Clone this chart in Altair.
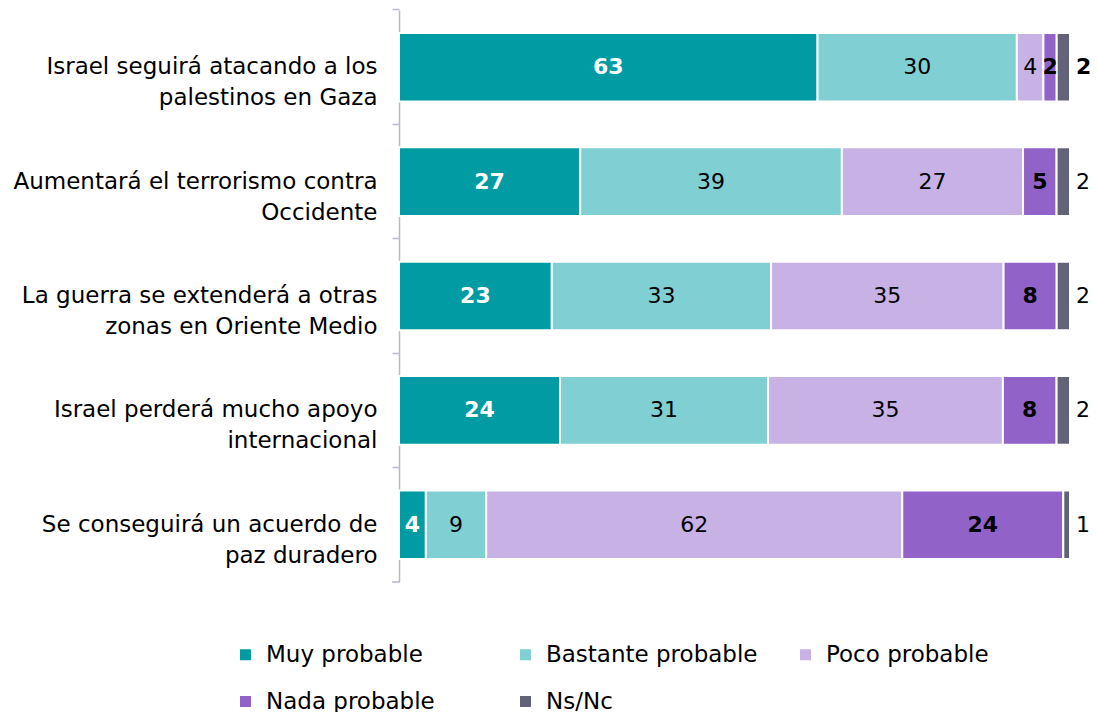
import altair as alt
import pandas as pd

preguntas = [
    "Israel seguirá atacando a los\npalestinos en Gaza",
    "Aumentará el terrorismo contra\nOccidente",
    "La guerra se extenderá a otras\nzonas en Oriente Medio",
    "Israel perderá mucho apoyo\ninternacional",
    "Se conseguirá un acuerdo de\npaz duradero",
]
categorias = ["Muy probable", "Bastante probable", "Poco probable", "Nada probable", "Ns/Nc"]
colores = ["#009BA3", "#80CFD2", "#C8B2E5", "#9163C9", "#626378"]

muy_probable = [63, 27, 23, 24, 4]
bastante_probable = [30, 39, 33, 31, 9]
poco_probable = [4, 27, 35, 35, 62]
nada_probable = [2, 5, 8, 8, 24]
ns_nc = [2, 2, 2, 2, 1]
nsnc_negrita = [True, False, False, False, False]

series = [muy_probable, bastante_probable, poco_probable, nada_probable, ns_nc]
rows = []
for ci, (cat, vals) in enumerate(zip(categorias, series)):
    for pi, (p, v) in enumerate(zip(preguntas, vals)):
        rows.append({
            "pregunta": p,
            "categoria": cat,
            "orden": ci,
            "valor": v,
            "negrita": bool(nsnc_negrita[pi]) if cat == "Ns/Nc" else False,
        })
df = pd.DataFrame(rows)

FONT = "DejaVu Sans"
AXIS_COL = "#B9B9CA"

base = alt.Chart(df).transform_stack(
    stack="valor",
    groupby=["pregunta"],
    as_=["v0", "v1"],
    sort=[alt.SortField("orden", order="ascending")],
    offset="normalize",
).transform_calculate(mid="(datum.v0 + datum.v1) / 2")

yenc = alt.Y(
    "pregunta:N",
    sort=preguntas,
    scale=alt.Scale(domain=preguntas, paddingInner=0.4, paddingOuter=0.2),
    axis=alt.Axis(
        title=None,
        labelExpr="split(datum.label, '\\n')",
        labelFontSize=23,
        labelLineHeight=31,
        labelColor="black",
        labelFont=FONT,
        labelAlign="right",
        labelPadding=15,
        labelLimit=0,
        tickSize=7,
        tickColor=AXIS_COL,
        tickWidth=1.5,
        domainColor=AXIS_COL,
        domainWidth=1.5,
        bandPosition=-1 / 3,
        grid=False,
    ),
)
xscale = alt.Scale(domain=[0, 1], nice=False, zero=True)

bars = base.mark_bar(stroke="white", strokeWidth=2).encode(
    y=yenc,
    x=alt.X("v0:Q", scale=xscale, axis=None),
    x2="v1:Q",
    color=alt.Color(
        "categoria:N",
        scale=alt.Scale(domain=categorias, range=colores),
        legend=alt.Legend(
            title=None,
            orient="none",
            direction="horizontal",
            legendX=-165,
            legendY=633,
            columns=3,
            gridAlign="all",
            symbolType="square",
            symbolSize=121,
            symbolStrokeWidth=0,
            labelFontSize=23,
            labelFont=FONT,
            labelColor="black",
            labelOffset=9,
            columnPadding=36,
            rowPadding=23,
            labelLimit=0,
        ),
    ),
)

def etiquetas(filtro, color, weight, pos="mid:Q", align="center", dx=0):
    return base.transform_filter(filtro).mark_text(
        font=FONT, fontSize=22, color=color, fontWeight=weight,
        align=align, baseline="middle", dx=dx,
    ).encode(
        y=alt.Y("pregunta:N", sort=preguntas),
        x=alt.X(pos, scale=xscale),
        text=alt.Text("valor:Q"),
    )

t_muy = etiquetas("datum.categoria == 'Muy probable'", "white", "bold")
t_mid = etiquetas("datum.categoria == 'Bastante probable' || datum.categoria == 'Poco probable'", "black", "normal")
t_nada = etiquetas("datum.categoria == 'Nada probable'", "black", "bold")
t_ns = etiquetas("datum.categoria == 'Ns/Nc' && !datum.negrita", "black", "normal", pos="v1:Q", align="left", dx=6)
t_ns_b = etiquetas("datum.categoria == 'Ns/Nc' && datum.negrita", "black", "bold", pos="v1:Q", align="left", dx=6)

tick_inf = alt.Chart(alt.Data(values=[{"t": 1}])).mark_rule(color=AXIS_COL, strokeWidth=1.5).encode(
    x=alt.value(-7), x2=alt.value(0), y=alt.value(572)
)

chart = alt.layer(bars, t_muy, t_mid, t_nada, t_ns, t_ns_b, tick_inf).properties(
    width=671,
    height=572,
    autosize=alt.AutoSizeParams(type="none"),
    padding={"left": 391, "top": 2, "right": 20, "bottom": 130},
).configure(font=FONT, view=alt.ViewConfig(stroke=None))

chart.save("out.html", embed_options={"renderer": "svg", "actions": False})
